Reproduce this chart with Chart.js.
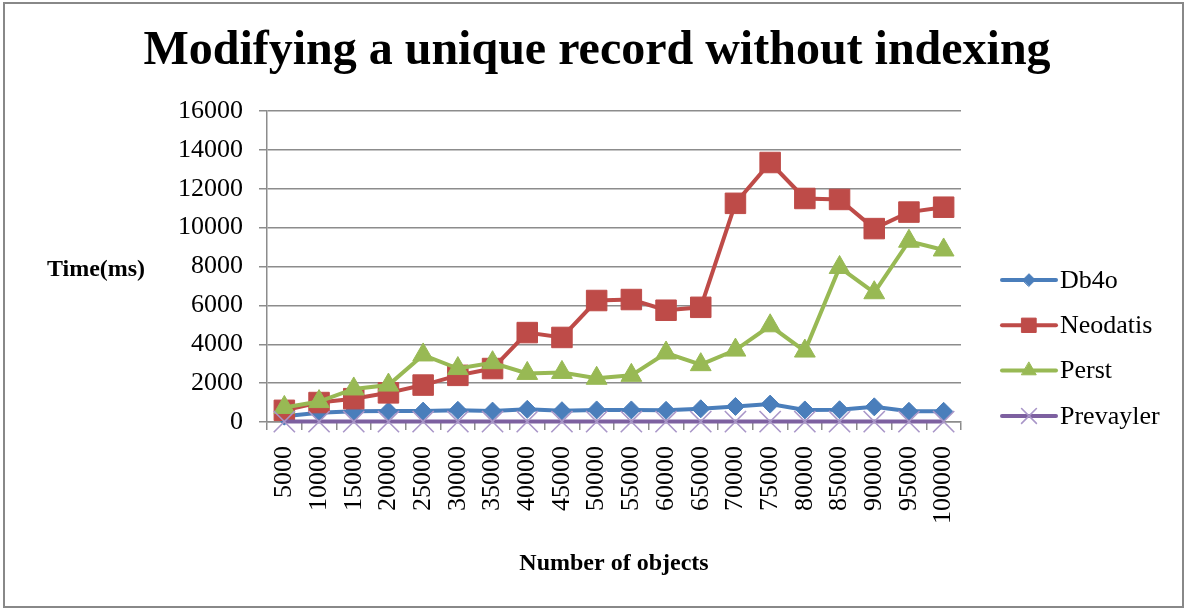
<!DOCTYPE html>
<html>
<head>
<meta charset="utf-8">
<style>
  html, body { margin: 0; padding: 0; background: #fff; }
  #wrap { width: 1187px; height: 610px; }
</style>
<script src="https://cdn.jsdelivr.net/npm/chart.js@4/dist/chart.umd.min.js"></script>
</head>
<body>
<div id="wrap"><canvas id="chart" width="1187" height="610"></canvas></div>
<script>
'use strict';

var categories = ['5000', '10000', '15000', '20000', '25000', '30000', '35000', '40000', '45000', '50000',
  '55000', '60000', '65000', '70000', '75000', '80000', '85000', '90000', '95000', '100000'];

var db4o = [300, 480, 550, 560, 560, 600, 560, 650, 580, 620, 620, 600, 680, 800, 920, 620, 630, 780, 550, 550];
var neodatis = [600, 1000, 1200, 1500, 1900, 2400, 2750, 4600, 4350, 6250, 6300, 5750, 5900, 11250, 13350, 11500, 11450, 9950, 10800, 11050];
var perst = [750, 1050, 1700, 1900, 3450, 2750, 3050, 2500, 2550, 2250, 2400, 3550, 2950, 3700, 4950, 3650, 7950, 6650, 9300, 8850];
var prevayler = [20, 20, 20, 20, 20, 20, 20, 20, 20, 20, 20, 20, 20, 20, 20, 20, 20, 20, 20, 20];

var yTicks = [0, 2000, 4000, 6000, 8000, 10000, 12000, 14000, 16000];

var TITLE = 'Modifying a unique record without indexing';
var SERIF = "'Liberation Serif', 'Times New Roman', serif";
var GRID = '#8c8c8c';

function series(label, data, color, style, radius, order, markColor, markWidth) {
  return {
    label: label,
    data: data,
    borderColor: color,
    backgroundColor: color,
    borderWidth: 4,
    tension: 0,
    clip: false,
    pointStyle: style,
    pointRadius: radius,
    pointHoverRadius: radius,
    pointBackgroundColor: markColor || color,
    pointBorderColor: markColor || color,
    pointBorderWidth: markWidth || 1,
    order: order
  };
}

// Frame, title, horizontal y title and the line+marker legend on the right.
// (The built-in title gets squeezed by the side padding, so it is drawn here.)
var decorations = {
  id: 'decorations',
  beforeDraw: function (chart) {
    var ctx = chart.ctx;
    ctx.save();
    ctx.fillStyle = '#fff';
    ctx.fillRect(0, 0, chart.width, chart.height);
    ctx.restore();
  },
  afterDraw: function (chart) {
    var ctx = chart.ctx;
    ctx.save();
    ctx.strokeStyle = '#888';
    ctx.lineWidth = 2;
    ctx.strokeRect(4, 3, 1179, 604);

    ctx.fillStyle = '#000';
    ctx.textAlign = 'center';
    ctx.textBaseline = 'middle';
    ctx.font = 'bold 48px ' + SERIF;
    ctx.fillText(TITLE, 597, 52);

    ctx.font = 'bold 24px ' + SERIF;
    ctx.fillText('Time(ms)', 96, 270);

    ctx.font = '26px ' + SERIF;
    ctx.textAlign = 'left';
    chart.data.datasets.forEach(function (ds, i) {
      var y = 280 + i * 45.3;
      ctx.strokeStyle = ds.borderColor;
      ctx.lineWidth = 4;
      ctx.lineCap = 'round';
      ctx.beginPath();
      ctx.moveTo(1002, y);
      ctx.lineTo(1056, y);
      ctx.stroke();
      ctx.fillStyle = ds.pointBackgroundColor;
      ctx.strokeStyle = ds.pointBorderColor;
      ctx.lineWidth = ds.pointBorderWidth;
      Chart.helpers.drawPoint(ctx, { pointStyle: ds.pointStyle, radius: ds.pointRadius * 0.7, borderWidth: ds.pointBorderWidth }, 1029, y);
      ctx.fillStyle = '#000';
      ctx.fillText(ds.label, 1060, y + 1);
    });
    ctx.restore();
  }
};

new Chart(document.getElementById('chart'), {
  type: 'line',
  data: {
    labels: categories,
    datasets: [
      series('Db4o', db4o, '#4A7EBB', 'rectRot', 9, 4),
      series('Neodatis', neodatis, '#BE4B48', 'rect', 14.5, 3),
      series('Perst', perst, '#98B954', 'triangle', 12, 2),
      series('Prevayler', prevayler, '#7D60A0', 'crossRot', 15, 1, '#A996C8', 1.6)
    ]
  },
  options: {
    responsive: false,
    animation: false,
    events: [],
    layout: { padding: { left: 150, right: 226, top: 111, bottom: 28 } },
    plugins: {
      legend: { display: false },
      tooltip: { enabled: false },
      title: { display: false }
    },
    scales: {
      x: {
        offset: true,
        grid: { offset: true, drawOnChartArea: false, drawTicks: true, tickLength: 8, color: GRID, lineWidth: 1.5 },
        border: { color: GRID, width: 1.5 },
        ticks: {
          color: '#000',
          font: { family: SERIF, size: 26 },
          minRotation: 90,
          maxRotation: 90,
          autoSkip: false,
          padding: 16
        },
        title: {
          display: true,
          text: 'Number of objects',
          color: '#000',
          font: { family: SERIF, size: 24, weight: 'bold' },
          padding: { top: 0, bottom: 4 }
        },
        afterFit: function (scale) { scale.height = 160; }
      },
      y: {
        min: 0,
        max: 16000,
        afterBuildTicks: function (scale) {
          scale.ticks = yTicks.map(function (v) { return { value: v }; });
        },
        grid: { color: GRID, lineWidth: 1.5, tickLength: 8 },
        border: { color: GRID, width: 1.5 },
        ticks: {
          color: '#000',
          font: { family: SERIF, size: 26 },
          padding: 16,
          callback: function (v) { return String(v); }
        },
        afterFit: function (scale) { scale.width = 117; }
      }
    }
  },
  plugins: [decorations]
});
</script>
</body>
</html>
